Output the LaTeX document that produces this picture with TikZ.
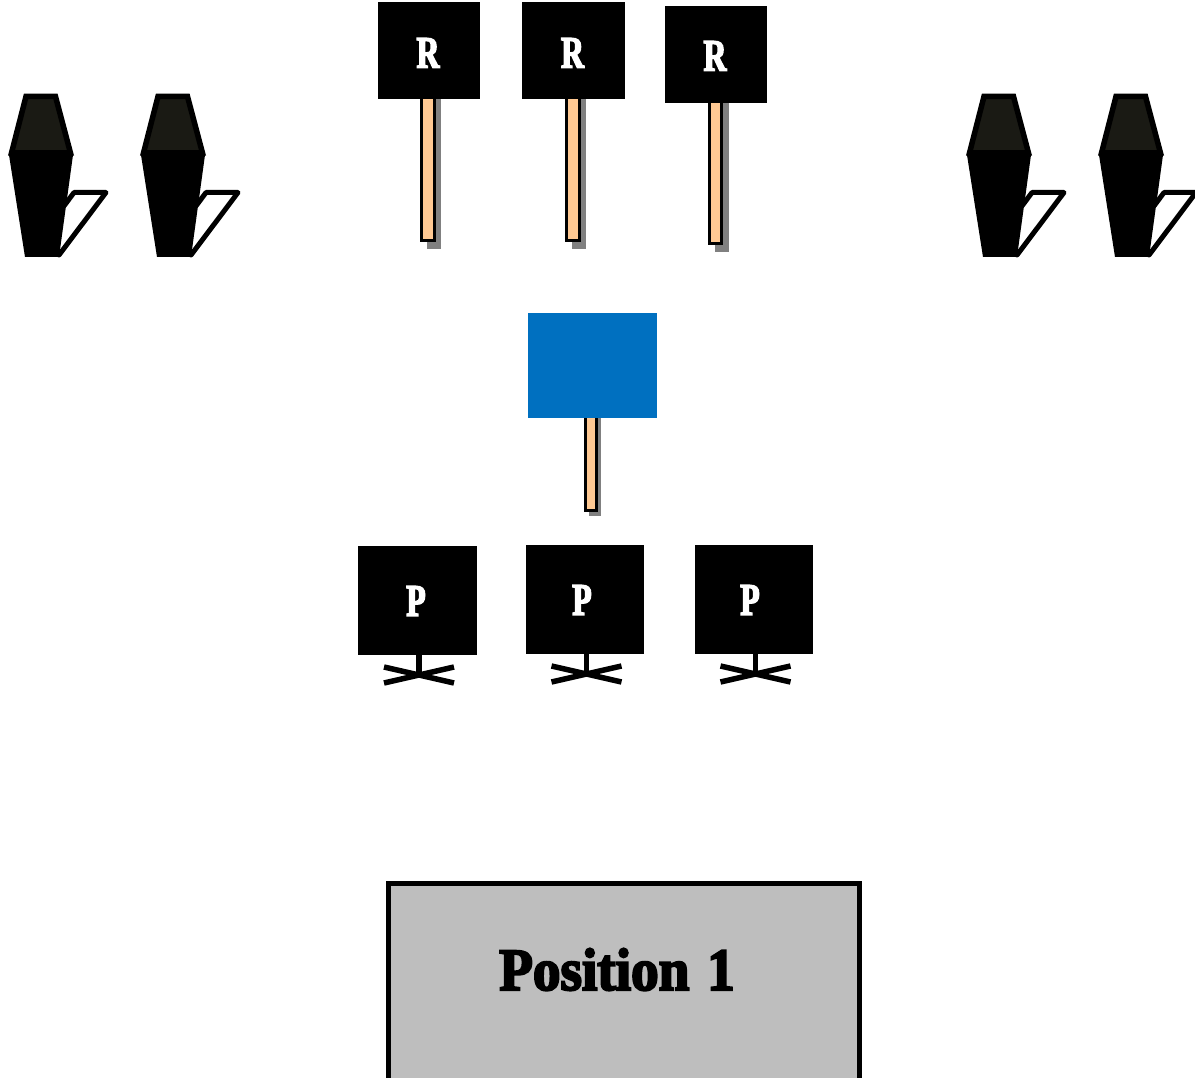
\documentclass[tikz,border=0pt]{standalone}
\usepackage{fontspec}
\newfontfamily\titlefont[FakeBold=3.4,FakeStretch=0.92]{Liberation Serif Bold}
\newfontfamily\signfont[FakeBold=3.4,FakeStretch=0.7]{Liberation Serif Bold}
\definecolor{seatgrey}{HTML}{1A1A14}
\definecolor{stickorange}{HTML}{FFC993}
\definecolor{stageblue}{HTML}{0070C0}
\definecolor{stagegrey}{HTML}{BEBEBE}
\tikzset{
	signbox/.style={fill=black,inner sep=0pt},
	signtext/.style={text=white,inner sep=0pt,font=\signfont\fontsize{45}{45}\selectfont},
	stickbar/.style={draw=black,fill=stickorange,line width=3pt},
	stickshadow/.style={fill=black!50},
	seattop/.style={draw=black,fill=seatgrey,line width=5.5pt,line join=miter},
	seatbody/.style={fill=black},
	seatarm/.style={draw=black,line width=5pt,line join=round,line cap=round},
	standleg/.style={draw=black,line width=5.5pt},
}
\begin{document}
\begin{tikzpicture}[x=1pt,y=-1pt]
	\useasboundingbox (0,0) rectangle (1195,1078);
	\clip (0,0) rectangle (1195,1078);
	% seats
	\foreach \dx in {0,132,958,1090}{
		\draw[seatarm] (\dx+64,206) -- (\dx+74,192.5) -- (\dx+106,192.5) -- (\dx+59,255);
		\fill[seatbody] (\dx+9,155) -- (\dx+73,155) -- (\dx+59,257) -- (\dx+25,257) -- cycle;
		\draw[seattop] (\dx+26,96.5) -- (\dx+55.5,96.5) -- (\dx+70.5,153) -- (\dx+11.5,153) -- cycle;
	}
	% sticks
	\foreach \x/\yb/\ys in {421.5/241/94,566.5/241/94,709/244/98}{
		\fill[stickshadow] (\x+5.5,\ys) rectangle (\x+19.5,\yb+8.5);
		\draw[stickbar] (\x,\ys) rectangle (\x+12.5,\yb);
	}
	\fill[stickshadow] (589,415) rectangle (600.5,516);
	\draw[stickbar] (585.5,415) rectangle (596.5,510.5);
	% signs
	\node[signbox,minimum width=102pt,minimum height=97pt] (r1) at (429,50.5) {};
	\node[signbox,minimum width=103pt,minimum height=97pt] (r2) at (573.5,50.5) {};
	\node[signbox,minimum width=102pt,minimum height=97pt] (r3) at (716,54.5) {};
	\node[fill=stageblue,minimum width=129pt,minimum height=105pt,inner sep=0pt] (blue) at (592.5,365.5) {};
	% players
	\node[signbox,minimum width=119pt,minimum height=109pt] (p1) at (417.5,600.5) {};
	\node[signbox,minimum width=118pt,minimum height=109pt] (p2) at (585,599.5) {};
	\node[signbox,minimum width=118pt,minimum height=109pt] (p3) at (753.5,599.5) {};
	\foreach \n/\t/\dx/\dy in {r1/R/-1/2.5,r2/R/-1/2.5,r3/R/-1/1.5,p1/P/-1.5/0.5,p2/P/-3/0.5,p3/P/-3.5/0.5}
		\node[signtext] (\n text) at ([shift={(\dx,\dy)}]\n) {\t};
	\foreach \n/\x/\y in {p1/419/0,p2/586.5/-1,p3/755.5/-1}{
		\draw[standleg] (\n.south -| {\x,0}) -- (\x,675+\y);
		\draw[standleg] (\x-35,667+\y) -- (\x+35,683+\y);
		\draw[standleg] (\x-35,683+\y) -- (\x+35,667+\y);
	}
	% position
	\node[draw=black,fill=stagegrey,line width=5pt,minimum width=471pt,minimum height=220pt,inner sep=0pt] (pos) at (623.5,993) {};
	\node[font=\titlefont\fontsize{60}{60}\selectfont,inner sep=0pt] (postext) at (617,969.5) {Position\ \kern4pt 1};
\end{tikzpicture}
\end{document}
